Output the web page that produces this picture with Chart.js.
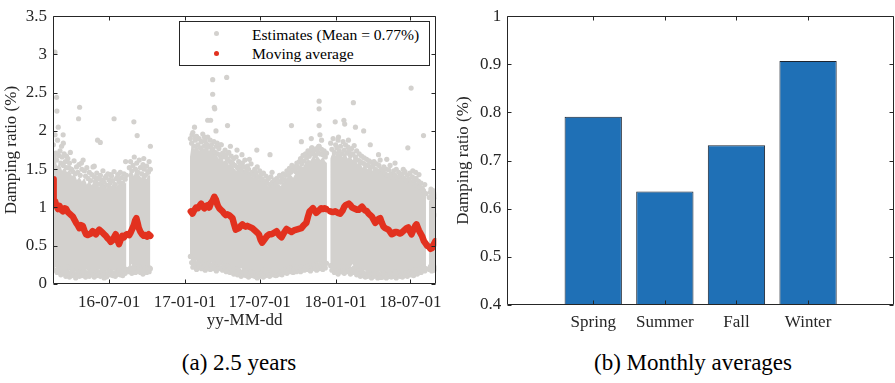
<!DOCTYPE html>
<html><head><meta charset="utf-8">
<script src="https://cdn.jsdelivr.net/npm/chart.js@4.4.1/dist/chart.umd.min.js"></script>
<style>
html,body{margin:0;padding:0;background:#fff;width:895px;height:383px;overflow:hidden;font-family:"Liberation Serif",serif;}
#wrapA{position:absolute;left:0;top:0;width:450px;height:340px;}
#wrapB{position:absolute;left:450px;top:0;width:445px;height:340px;}
.cap{position:absolute;top:351px;font-size:23px;line-height:23px;white-space:nowrap;transform:translateX(-50%);color:#000;}
#legbox{position:absolute;left:179px;top:21px;width:251px;height:45px;border:1px solid #262626;background:#fff;box-sizing:border-box;}
.legtxt{position:absolute;left:252px;font-size:15.6px;line-height:15.6px;white-space:nowrap;color:#000;}
.legdot{position:absolute;width:5px;height:5px;border-radius:50%;}
</style></head>
<body>
<div id="wrapA"><canvas id="cA" width="450" height="340"></canvas></div>
<div id="wrapB"><canvas id="cB" width="445" height="340"></canvas></div>
<div id="legbox"></div>
<div id="leg"></div>
<div class="cap" style="left:239px">(a) 2.5 years</div>
<div class="cap" style="left:693px">(b) Monthly averages</div>
<script>
// ---------- Panel (a): x values are day numbers counted from 2016-01-01 ----------
const dayOrigin = '2016-01-01';
const xTickDates  = ['2016-07-01','2017-01-01','2017-07-01','2018-01-01','2018-07-01'];
const xTickLabels = ['16-07-01','17-01-01','17-07-01','18-01-01','18-07-01'];
const xRangeDays  = [46, 975];
const yTicksA = [0,0.5,1,1.5,2,2.5,3,3.5];
const legendLabels = ['Estimates (Mean = 0.77%)','Moving average'];

// dense core of the estimates cloud: lower / upper edge per day (null = no data)
const bandDay  = [46,50,56,62,68,74,80,86,92,98,104,110,116,122,128,134,140,146,152,158,164,170,176,182,188,194,200,206,212,218,224,227,
  230,236,242,248,254,260,266,272,278,282,286,
  378,382,388,394,400,406,412,418,424,430,436,442,448,454,460,466,472,478,484,490,496,502,508,514,520,526,532,538,544,550,556,562,568,574,580,586,592,598,604,610,616,622,628,634,640,646,652,658,664,670,676,682,688,694,700,706,710,713,
  718,724,730,736,742,748,754,760,766,772,778,784,790,796,802,808,814,820,826,832,838,844,850,856,862,868,874,880,886,892,898,904,910,916,922,928,934,940,946,950,953,
  957,964,970,975];
const bandLow  = [0.23,0.25,0.19,0.22,0.17,0.21,0.15,0.18,0.13,0.19,0.12,0.16,0.17,0.13,0.19,0.15,0.18,0.13,0.17,0.19,0.14,0.12,0.17,0.20,0.14,0.18,0.15,0.20,0.16,0.18,0.21,null,
  0.19,0.26,0.21,0.24,0.18,0.22,0.16,0.20,0.18,0.21,null,
  0.35,0.29,0.26,0.31,0.24,0.28,0.23,0.26,0.22,0.28,0.24,0.26,0.22,0.28,0.24,0.26,0.21,0.24,0.20,0.23,0.18,0.21,0.16,0.19,0.14,0.18,0.16,0.12,0.15,0.12,0.15,0.17,0.14,0.18,0.16,0.14,0.18,0.16,0.20,0.18,0.21,0.18,0.22,0.20,0.24,0.21,0.24,0.22,0.26,0.23,0.26,0.24,0.28,0.26,0.24,0.26,0.28,null,
  0.26,0.21,0.24,0.18,0.22,0.26,0.20,0.24,0.21,0.26,0.20,0.16,0.20,0.14,0.18,0.14,0.16,0.12,0.15,0.13,0.16,0.12,0.15,0.14,0.11,0.14,0.12,0.16,0.13,0.11,0.15,0.12,0.16,0.13,0.15,0.18,0.16,0.20,0.18,0.21,null,
  0.20,0.18,0.22,0.21];
const bandHigh = [1.60,1.66,1.54,1.58,1.48,1.53,1.46,1.50,1.41,1.44,1.36,1.40,1.34,1.39,1.30,1.35,1.29,1.36,1.31,1.27,1.34,1.30,1.25,1.32,1.28,1.34,1.27,1.32,1.35,1.30,1.33,null,
  1.44,1.50,1.41,1.54,1.43,1.39,1.46,1.37,1.43,1.41,null,
  1.66,1.82,1.76,1.84,1.74,1.80,1.76,1.82,1.74,1.78,1.70,1.68,1.64,1.68,1.60,1.64,1.56,1.59,1.52,1.48,1.52,1.46,1.50,1.44,1.46,1.41,1.39,1.43,1.37,1.41,1.33,1.31,1.27,1.31,1.26,1.29,1.31,1.28,1.33,1.37,1.41,1.43,1.39,1.45,1.49,1.55,1.53,1.59,1.63,1.61,1.67,1.64,1.67,1.62,1.66,1.60,1.58,null,
  1.64,1.72,1.68,1.74,1.70,1.66,1.72,1.64,1.68,1.62,1.66,1.57,1.60,1.52,1.56,1.50,1.54,1.48,1.52,1.46,1.50,1.44,1.48,1.42,1.46,1.40,1.44,1.38,1.42,1.37,1.40,1.35,1.38,1.32,1.36,1.30,1.32,1.24,1.20,1.15,null,
  1.08,1.13,1.17,1.14];

// isolated estimates far from the core
const outlierDay = [50.8,54.8,55.5,58.7,70.6,71,108,110.5,66.8,78.7,85,115,146,154,160.6,175,186,194,222,242,250,266,282,277,
  176,106,111,198,246,280,54,82,
  433,433,437,438,467,469,421,428,441,389,383,391,413,405,444,452,476,492,504,516,522,540,572,577,624,640,648,672,674,691,691,691,693,697,690,
  417,393,492,524,556,588,596,527,636,664,684,
  730,751,753,774,779,799,738,762,815,835,855,875,895,906,914,918,925,933,944,962,970,971,
  841,827,892,875,920,962,745,788,975];
const outlierVal = [3.03,2.44,2.26,2.05,1.95,1.84,2.16,2.31,1.80,1.67,1.52,1.58,1.54,1.88,1.85,1.41,1.43,2.16,1.60,2.12,1.94,1.64,1.80,1.46,
  0.094,0.115,0.136,0.13,0.20,0.21,0.26,0.22,
  2.67,2.48,2.31,2.29,2.70,2.07,2.14,2.14,2.00,2.05,1.95,1.92,1.92,1.86,1.84,1.82,1.80,1.75,1.69,1.50,1.63,1.75,1.69,1.46,2.07,1.52,1.86,1.90,1.78,2.39,2.29,2.07,1.95,1.88,1.80,
  0.22,0.26,0.20,0.16,0.18,0.115,0.14,0.13,0.16,0.20,0.26,
  2.12,2.14,2.09,2.37,2.05,2.00,1.92,1.88,1.82,1.69,1.63,1.58,1.50,1.78,2.56,1.48,1.46,1.43,1.94,1.24,1.12,0.90,
  0.085,0.14,0.115,0.16,0.18,0.22,0.16,0.18,0.20];

// estimates on the ragged upper fringe of the cloud
const upperDay = [47,49,51,53,55,57,60,63,65,68,71,73,76,79,82,86,88,91,94,97,100,103,106,109,112,116,119,122,125,128,131,134,137,140,143,146,149,152,155,158,161,164,167,170,173,176,179,182,185,188,191,194,197,200,203,206,209,212,215,218,221,224,231,234,237,240,243,246,249,252,255,258,261,264,267,270,273,276,279,282,
  379,382,385,388,391,394,397,400,403,406,409,412,415,418,421,424,427,430,433,436,439,442,445,448,451,454,457,460,463,466,469,472,475,478,481,484,487,490,493,496,499,502,505,508,511,514,517,520,523,526,529,532,535,538,541,544,547,550,553,556,559,562,565,568,571,574,577,580,583,586,589,592,595,598,601,604,607,610,613,616,619,622,625,628,631,634,637,640,643,646,649,652,655,658,661,664,667,670,673,676,679,682,685,688,691,694,697,700,703,706,709,
  719,722,725,728,731,734,737,740,743,746,749,752,755,758,761,764,767,770,773,776,779,782,785,788,791,794,797,800,803,806,809,812,815,818,821,824,827,830,833,836,839,842,845,848,851,854,857,860,863,866,869,872,875,878,881,884,887,890,893,896,899,902,905,908,911,914,917,920,923,926,929,932,935,938,941,944,947,950,958,961,964,967,970,973];
const upperVal = [1.82,1.66,1.95,1.71,1.62,1.88,1.68,1.74,1.58,1.66,1.55,1.70,1.60,1.52,1.64,1.58,1.72,1.50,1.47,1.61,1.44,1.53,1.46,1.56,1.42,1.50,1.62,1.48,1.41,1.52,1.38,1.46,1.35,1.43,1.53,1.40,1.34,1.45,1.38,1.31,1.42,1.36,1.48,1.33,1.39,1.29,1.44,1.36,1.32,1.41,1.35,1.47,1.30,1.38,1.43,1.34,1.46,1.39,1.32,1.44,1.37,1.42,1.52,1.60,1.48,1.55,1.66,1.50,1.58,1.46,1.62,1.52,1.44,1.56,1.50,1.42,1.54,1.47,1.60,1.50,
  1.90,1.84,1.98,1.80,1.88,1.93,1.82,1.90,1.78,1.86,1.96,1.80,1.87,1.83,1.92,1.79,1.88,1.82,1.76,1.86,1.72,1.80,1.70,1.77,1.68,1.82,1.71,1.66,1.75,1.69,1.63,1.72,1.60,1.67,1.58,1.64,1.55,1.66,1.52,1.60,1.55,1.49,1.58,1.53,1.62,1.47,1.54,1.50,1.44,1.57,1.46,1.42,1.50,1.45,1.53,1.40,1.48,1.43,1.37,1.45,1.34,1.41,1.32,1.38,1.30,1.40,1.33,1.28,1.36,1.31,1.38,1.34,1.42,1.33,1.38,1.44,1.36,1.42,1.48,1.44,1.51,1.46,1.55,1.49,1.53,1.47,1.58,1.52,1.60,1.64,1.57,1.68,1.61,1.70,1.65,1.74,1.67,1.72,1.78,1.70,1.75,1.68,1.77,1.72,1.80,1.70,1.76,1.69,1.74,1.66,1.71,
  1.84,1.76,1.90,1.72,1.82,1.78,1.88,1.74,1.80,1.70,1.86,1.75,1.82,1.71,1.79,1.74,1.68,1.77,1.70,1.81,1.66,1.74,1.62,1.70,1.60,1.67,1.58,1.65,1.56,1.63,1.55,1.61,1.52,1.59,1.54,1.60,1.50,1.57,1.48,1.55,1.62,1.50,1.46,1.53,1.44,1.50,1.42,1.49,1.55,1.44,1.40,1.48,1.42,1.50,1.39,1.46,1.41,1.36,1.44,1.38,1.47,1.35,1.42,1.37,1.45,1.33,1.40,1.35,1.30,1.38,1.29,1.34,1.27,1.32,1.25,1.22,1.30,1.18,1.13,1.20,1.16,1.22,1.18,1.14];

// estimates on the ragged lower fringe of the cloud
const lowerDay = [47,50,53,56,59,62,65,68,71,74,77,80,83,86,89,92,95,98,101,104,107,110,113,116,119,122,125,128,131,134,137,140,143,146,149,152,155,158,161,164,167,170,173,176,179,182,185,188,191,194,197,200,203,206,209,212,215,218,221,224,231,234,237,240,243,246,249,252,255,258,261,264,267,270,273,276,279,282,
  379,382,385,388,391,394,397,400,403,406,409,412,415,418,421,424,427,430,433,436,439,442,445,448,451,454,457,460,463,466,469,472,475,478,481,484,487,490,493,496,499,502,505,508,511,514,517,520,523,526,529,532,535,538,541,544,547,550,553,556,559,562,565,568,571,574,577,580,583,586,589,592,595,598,601,604,607,610,613,616,619,622,625,628,631,634,637,640,643,646,649,652,655,658,661,664,667,670,673,676,679,682,685,688,691,694,697,700,703,706,709,
  719,722,725,728,731,734,737,740,743,746,749,752,755,758,761,764,767,770,773,776,779,782,785,788,791,794,797,800,803,806,809,812,815,818,821,824,827,830,833,836,839,842,845,848,851,854,857,860,863,866,869,872,875,878,881,884,887,890,893,896,899,902,905,908,911,914,917,920,923,926,929,932,935,938,941,944,947,950,958,961,964,967,970,973];
const lowerVal = [0.24,0.18,0.26,0.15,0.21,0.17,0.12,0.19,0.14,0.20,0.10,0.16,0.13,0.09,0.15,0.11,0.17,0.13,0.08,0.12,0.16,0.10,0.14,0.11,0.16,0.12,0.09,0.15,0.13,0.10,0.14,0.17,0.12,0.09,0.14,0.11,0.16,0.13,0.10,0.15,0.12,0.08,0.14,0.10,0.13,0.17,0.12,0.15,0.11,0.14,0.10,0.16,0.13,0.18,0.12,0.15,0.11,0.17,0.14,0.19,0.16,0.21,0.14,0.19,0.23,0.15,0.20,0.17,0.22,0.15,0.19,0.13,0.18,0.21,0.15,0.19,0.16,0.20,
  0.36,0.28,0.22,0.31,0.25,0.19,0.27,0.23,0.29,0.20,0.26,0.22,0.18,0.25,0.21,0.27,0.19,0.24,0.20,0.26,0.22,0.17,0.24,0.20,0.27,0.21,0.18,0.24,0.20,0.16,0.23,0.19,0.15,0.21,0.17,0.13,0.20,0.16,0.12,0.18,0.14,0.10,0.16,0.12,0.17,0.11,0.14,0.09,0.13,0.16,0.11,0.14,0.10,0.12,0.08,0.13,0.10,0.14,0.11,0.09,0.13,0.11,0.15,0.12,0.10,0.14,0.17,0.12,0.15,0.11,0.14,0.17,0.13,0.16,0.12,0.18,0.15,0.19,0.14,0.17,0.21,0.16,0.19,0.15,0.20,0.17,0.22,0.18,0.21,0.16,0.20,0.23,0.18,0.22,0.19,0.24,0.20,0.17,0.23,0.20,0.25,0.21,0.18,0.24,0.20,0.26,0.22,0.19,0.25,0.21,0.27,
  0.24,0.18,0.21,0.15,0.22,0.17,0.13,0.20,0.16,0.23,0.18,0.14,0.20,0.16,0.22,0.17,0.13,0.19,0.15,0.21,0.16,0.12,0.17,0.13,0.10,0.15,0.11,0.14,0.09,0.13,0.10,0.15,0.12,0.08,0.12,0.10,0.14,0.11,0.08,0.13,0.10,0.12,0.09,0.14,0.11,0.08,0.12,0.10,0.14,0.09,0.12,0.10,0.13,0.08,0.11,0.14,0.10,0.12,0.09,0.13,0.11,0.15,0.10,0.13,0.16,0.12,0.15,0.11,0.14,0.18,0.13,0.16,0.20,0.15,0.18,0.22,0.17,0.20,0.19,0.23,0.17,0.21,0.18,0.22];

// moving average (null = gap)
const maDay = [46,47,48,51,54,58,62,66,70,74,78,82,86,90,94,98,102,106,110,114,118,122,126,130,134,138,142,146,150,154,158,162,166,170,174,178,182,186,190,194,198,202,206,210,214,218,222,225,228,
  231,234,238,242,245,248,251,254,258,262,266,270,274,278,282,330,
  380,384,389,393,397,401,405,409,413,417,421,425,429,433,437,441,445,449,453,457,461,465,469,473,477,481,485,489,493,497,501,505,509,513,517,521,525,529,533,537,541,545,549,553,557,561,565,570,576,582,588,594,600,606,612,618,624,630,636,642,648,654,660,664,668,672,676,680,684,688,692,696,700,704,708,712,
  718,724,730,736,742,748,752,755,759,763,767,771,775,779,783,787,791,795,799,803,807,811,815,819,823,827,831,835,839,843,847,851,855,859,863,867,871,875,879,883,887,891,895,899,903,907,911,915,918,921,924,927,930,933,937,941,945,949,953,957,961,965,969,973,975];
const maVal = [1.37,1.22,1.05,1.08,1.03,0.98,1.02,0.97,0.95,0.99,0.98,0.94,0.92,0.90,0.88,0.84,0.80,0.77,0.73,0.77,0.76,0.70,0.65,0.64,0.65,0.66,0.69,0.67,0.65,0.68,0.71,0.69,0.67,0.65,0.63,0.60,0.58,0.55,0.57,0.61,0.65,0.58,0.52,0.58,0.63,0.61,0.64,0.65,null,
  0.64,0.67,0.72,0.77,0.83,0.86,0.80,0.73,0.68,0.65,0.63,0.64,0.62,0.65,0.63,null,
  0.95,0.92,0.97,1.00,0.99,1.02,1.05,1.01,0.99,1.02,1.03,1.00,1.06,1.09,1.14,1.10,1.03,0.99,0.97,0.95,0.92,0.90,0.91,0.90,0.88,0.86,0.78,0.71,0.72,0.73,0.76,0.78,0.76,0.75,0.76,0.75,0.74,0.73,0.71,0.69,0.67,0.65,0.58,0.54,0.57,0.60,0.63,0.65,0.65,0.67,0.69,0.64,0.61,0.67,0.72,0.70,0.68,0.70,0.71,0.72,0.73,0.77,0.80,0.88,0.95,0.97,0.99,0.96,0.93,0.95,0.97,0.99,0.98,0.99,0.98,null,
  0.95,0.94,0.95,0.93,0.92,0.96,1.01,1.03,1.04,1.05,1.03,1.00,0.99,0.98,0.97,0.97,0.99,1.01,0.98,0.96,0.95,0.92,0.90,0.88,0.84,0.80,0.82,0.85,0.86,0.80,0.75,0.73,0.72,0.71,0.68,0.65,0.66,0.68,0.68,0.67,0.66,0.67,0.69,0.71,0.73,0.74,0.69,0.65,0.69,0.72,0.76,0.78,0.74,0.70,0.66,0.62,0.56,0.53,0.50,0.49,0.46,0.47,0.52,0.56,0.55];

// ---------- Panel (b) ----------
const seasons = ['Spring','Summer','Fall','Winter'];
const seasonMeans = [0.791,0.636,0.732,0.907];
const yTicksB = [0.4,0.5,0.6,0.7,0.8,0.9,1];

// ---------- helpers ----------
const dayOf = s => Math.round((Date.parse(s) - Date.parse(dayOrigin)) / 86400000);
const xTickDays = xTickDates.map(dayOf);
const pts = (xs, ys) => xs.map((d, i) => ({x: d, y: ys[i]}));
const FONT = '"Liberation Serif", serif';
const AX = '#262626';
const GREY = '#d3d1ce';
const RED = '#e2311f';
const BLUE = '#1f70b6';
Chart.defaults.font.family = FONT;
Chart.defaults.color = AX;

const boxTicks = {
  id: 'boxTicks',
  afterDraw(chart) {
    const {ctx, chartArea: a, scales: {x, y}} = chart;
    const L = Math.round(a.left) + 0.5, R = Math.round(a.right) - 0.5;
    const T = Math.round(a.top) + 0.5, B = Math.round(a.bottom) - 0.5;
    ctx.save();
    ctx.strokeStyle = AX; ctx.lineWidth = 1;
    ctx.beginPath();
    ctx.rect(L, T, R - L, B - T);
    const len = 4;
    x.ticks.forEach(t => {
      const p = Math.round(x.getPixelForValue(t.value)) + 0.5;
      ctx.moveTo(p, B); ctx.lineTo(p, B - len);
      ctx.moveTo(p, T); ctx.lineTo(p, T + len);
    });
    y.ticks.forEach(t => {
      const p = Math.round(y.getPixelForValue(t.value)) + 0.5;
      ctx.moveTo(L, p); ctx.lineTo(L + len, p);
      ctx.moveTo(R, p); ctx.lineTo(R - len, p);
    });
    ctx.stroke();
    ctx.restore();
  }
};

const fmt = v => String(Math.round(v * 10) / 10);
const dot = {showLine: false, pointRadius: 2.6, pointBorderWidth: 0, pointBackgroundColor: GREY, order: 2};

// ---------- chart (a) ----------
const dsA = [
  {label: 'core low', data: pts(bandDay, bandLow), borderWidth: 0, pointRadius: 0, fill: false, spanGaps: false, order: 4, borderColor: 'rgba(0,0,0,0)'},
  {label: legendLabels[0], data: pts(bandDay, bandHigh), borderWidth: 0, pointRadius: 0, fill: '-1', backgroundColor: GREY, spanGaps: false, order: 3, borderColor: 'rgba(0,0,0,0)'},
  Object.assign({label: 'upper fringe', data: pts(upperDay, upperVal)}, dot),
  Object.assign({label: 'lower fringe', data: pts(lowerDay, lowerVal)}, dot),
  Object.assign({label: 'outliers', data: pts(outlierDay, outlierVal)}, dot),
  {label: legendLabels[1], data: pts(maDay, maVal), borderColor: RED, borderWidth: 6.5, pointRadius: 0, fill: false, spanGaps: false, borderJoinStyle: 'round', borderCapStyle: 'round', order: 1}
];
new Chart(document.getElementById('cA'), {
  type: 'line',
  data: {datasets: dsA},
  plugins: [boxTicks],
  options: {
    responsive: false, animation: false, devicePixelRatio: 1,
    layout: {padding: {top: 10, right: 8, left: 0, bottom: 0}},
    plugins: {legend: {display: false}, tooltip: {enabled: false}},
    scales: {
      x: {
        type: 'linear', min: xRangeDays[0], max: xRangeDays[1],
        grid: {display: false, drawTicks: false}, border: {display: false},
        afterBuildTicks: s => { s.ticks = xTickDays.map(v => ({value: v})); },
        afterFit: s => { s.height = 56; },
        ticks: {padding: 8, font: {size: 17}, maxRotation: 0, autoSkip: false,
          callback: v => xTickLabels[xTickDays.indexOf(v)]},
        title: {display: true, text: 'yy-MM-dd', font: {size: 17}, padding: {top: 0, bottom: 9}}
      },
      y: {
        type: 'linear', min: yTicksA[0], max: yTicksA[yTicksA.length - 1],
        grid: {display: false, drawTicks: false}, border: {display: false},
        afterBuildTicks: s => { s.ticks = yTicksA.map(v => ({value: v})); },
        afterFit: s => { s.width = 53; },
        ticks: {padding: 6, font: {size: 17}, callback: fmt},
        title: {display: true, text: 'Damping ratio (%)', font: {size: 17}, padding: {top: 1, bottom: 0}}
      }
    }
  }
});

// ---------- chart (b) ----------
new Chart(document.getElementById('cB'), {
  type: 'bar',
  data: {datasets: [{
    label: 'Damping ratio',
    data: seasons.map((s, i) => ({x: i + 1, y: seasonMeans[i]})),
    backgroundColor: BLUE, borderColor: '#1c2430', borderWidth: 1,
    categoryPercentage: 0.8, barPercentage: 1, base: 0.4
  }]},
  plugins: [boxTicks],
  options: {
    responsive: false, animation: false, devicePixelRatio: 1,
    layout: {padding: {top: 10, right: 1, left: 0, bottom: 0}},
    plugins: {legend: {display: false}, tooltip: {enabled: false}},
    scales: {
      x: {
        type: 'linear', min: -0.2, max: 5.2, offset: false,
        grid: {display: false, drawTicks: false}, border: {display: false},
        afterBuildTicks: s => { s.ticks = seasons.map((c, i) => ({value: i + 1})); },
        afterFit: s => { s.height = 35; },
        ticks: {padding: 7, font: {size: 17}, maxRotation: 0, autoSkip: false,
          callback: v => seasons[v - 1]}
      },
      y: {
        type: 'linear', min: yTicksB[0], max: yTicksB[yTicksB.length - 1],
        grid: {display: false, drawTicks: false}, border: {display: false},
        afterBuildTicks: s => { s.ticks = yTicksB.map(v => ({value: v})); },
        afterFit: s => { s.width = 57.3; },
        ticks: {padding: 6, font: {size: 17}, callback: fmt},
        title: {display: true, text: 'Damping ratio (%)', font: {size: 17}, padding: {top: 3, bottom: 0}}
      }
    }
  }
});

// ---------- legend of panel (a) ----------
const leg = document.getElementById('leg');
[[legendLabels[0], GREY, 33.3, 27], [legendLabels[1], RED, 53.3, 46.2]].forEach(([txt, col, cy, ty]) => {
  const d = document.createElement('div');
  d.className = 'legdot'; d.style.background = col;
  d.style.left = (216.7 - 2.5) + 'px'; d.style.top = (cy - 2.5) + 'px';
  leg.appendChild(d);
  const t = document.createElement('div');
  t.className = 'legtxt'; t.style.top = ty + 'px'; t.textContent = txt;
  leg.appendChild(t);
});
</script>
</body></html>
